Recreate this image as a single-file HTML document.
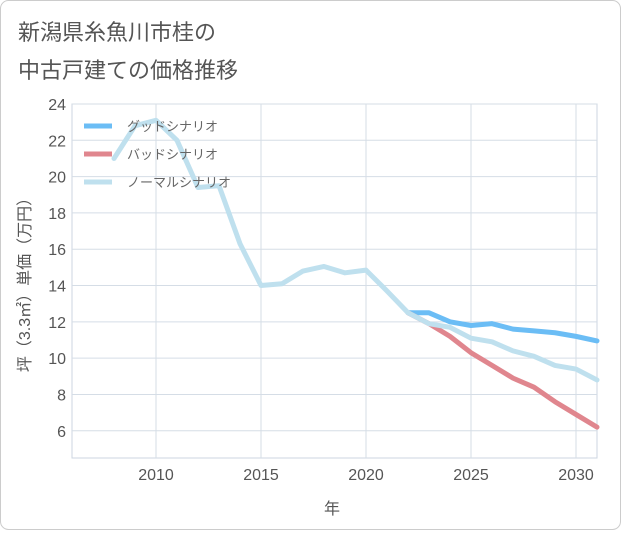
<!DOCTYPE html>
<html><head><meta charset="utf-8"><style>
body{margin:0;background:#fff;font-family:"Liberation Sans","Noto Sans CJK JP",sans-serif}
</style></head><body>
<svg width="621" height="530" viewBox="0 0 621 530" xmlns="http://www.w3.org/2000/svg" style="font-family:'Liberation Sans','Noto Sans CJK JP',sans-serif">
<rect x="0.5" y="0.5" width="620" height="529" rx="8" fill="#fff" stroke="#ccc"/>
<text x="18" y="40" font-size="22" fill="#555">新潟県糸魚川市桂の</text>
<text x="18" y="78" font-size="22" fill="#555">中古戸建ての価格推移</text>
<g id="grid"></g>
<g id="axes"></g>
<g id="series"></g>
<text x="332" y="514" font-size="16" fill="#555" text-anchor="middle">年</text>
<text transform="translate(30,281) rotate(-90)" font-size="16" fill="#555" text-anchor="middle">坪（3.3㎡）単価（万円）</text>
<g id="legend"></g>
</svg>
<script>
const years=[2008,2009,2010,2011,2012,2013,2014,2015,2016,2017,2018,2019,2020,2021,2022,2023,2024,2025,2026,2027,2028,2029,2030,2031];
const normal=[21,22.8,23.1,22,19.4,19.5,16.3,14,14.1,14.8,15.05,14.7,14.85,13.7,12.5,11.9,11.7,11.1,10.9,10.4,10.1,9.6,9.4,8.8];
const futureYears=[2022,2023,2024,2025,2026,2027,2028,2029,2030,2031];
const good=[12.5,12.5,12.0,11.8,11.9,11.6,11.5,11.4,11.2,10.95];
const bad=[12.5,11.9,11.2,10.3,9.6,8.9,8.4,7.6,6.9,6.2];
const xTicks=[2010,2015,2020,2025,2030];
const yTicks=[6,8,10,12,14,16,18,20,22,24];
const X0=72,X1=597,Y0=458,Y1=104,xmin=2006,xmax=2031,ymin=4.5,ymax=24;
const xs=v=>X0+(v-xmin)/(xmax-xmin)*(X1-X0);
const ys=v=>Y0-(v-ymin)/(ymax-ymin)*(Y0-Y1);
const NS="http://www.w3.org/2000/svg";
function mk(p,t,a){const e=document.createElementNS(NS,t);for(const k in a)e.setAttribute(k,a[k]);p.appendChild(e);return e;}
const grid=document.getElementById('grid'),axes=document.getElementById('axes'),series=document.getElementById('series'),legend=document.getElementById('legend');
mk(grid,'rect',{x:X0,y:Y1,width:X1-X0,height:Y0-Y1,fill:'none',stroke:'#ccd6e0'});
xTicks.forEach(t=>{const l=mk(grid,'line',{x1:xs(t),x2:xs(t),y1:Y1,y2:Y0,stroke:'#d5dde6'});

const tx=mk(axes,'text',{x:xs(t),y:Y0+22,'font-size':16,fill:'#555','text-anchor':'middle'});tx.textContent=t;
});
yTicks.forEach(t=>{const l=mk(grid,'line',{x1:X0,x2:X1,y1:ys(t),y2:ys(t),stroke:'#d5dde6'});

const tx=mk(axes,'text',{x:X0-6,y:ys(t)+6,'font-size':16,fill:'#555','text-anchor':'end'});tx.textContent=t;
});
function line(xv,yv,c,name){const d=xv.map((x,i)=>(i?'L':'M')+xs(x)+','+ys(yv[i])).join('');
const p=mk(series,'path',{d:d,fill:'none',stroke:c,'stroke-width':5,'stroke-linejoin':'round','stroke-linecap':'round'});
}
line(futureYears,good,'#6bbdf5','good-scenario-line');
line(futureYears,bad,'#e0868e','bad-scenario-line');
line(years,normal,'#bfe0ee','normal-scenario-line');
[['グッドシナリオ','#6bbdf5'],['バッドシナリオ','#e0868e'],['ノーマルシナリオ','#bfe0ee']].forEach((e,i)=>{
const y=126+i*28;const r=mk(legend,'line',{x1:84,x2:112,y1:y,y2:y,stroke:e[1],'stroke-width':5});

const t=mk(legend,'text',{x:127,y:y+5,'font-size':13,fill:'#666'});t.textContent=e[0];
});
</script>
</body></html>
